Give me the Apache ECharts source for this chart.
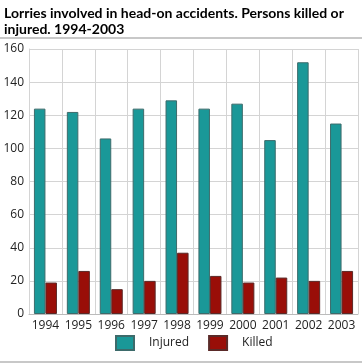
<!DOCTYPE html>
<html>
<head>
<meta charset="utf-8">
<script src="https://cdn.jsdelivr.net/npm/echarts@6/dist/echarts.min.js"></script>
<style>
html,body{margin:0;padding:0;background:#fff;}
#chart{width:362px;height:363px;}
</style>
</head>
<body>
<div id="chart"></div>
<script>
var titleText = 'Lorries involved in head-on accidents. Persons killed or\ninjured. 1994-2003';
var categories = ['1994','1995','1996','1997','1998','1999','2000','2001','2002','2003'];
var injured = [124,122,106,124,129,124,127,105,152,115];
var killed = [19,26,15,20,37,23,19,22,20,26];
var seriesNames = ['Injured','Killed'];

var chart = echarts.init(document.getElementById('chart'), null, {renderer:'canvas'});
var font = '"Open Sans", "Noto Sans", sans-serif';
chart.setOption({
  animation:false,
  backgroundColor:'#fff',
  title:{
    text:titleText,
    left:-1, top:0,
    textStyle:{fontFamily:'Lato, sans-serif', fontSize:14, fontWeight:'bold', color:'#000', lineHeight:16}
  },
  graphic:[
    {type:'rect', shape:{x:0,y:37,width:362,height:2}, style:{fill:'#c8c8c8'}, silent:true},
    {type:'rect', shape:{x:0,y:361,width:362,height:2}, style:{fill:'#c8c8c8'}, silent:true}
  ],
  legend:{
    bottom:7, left:110,
    itemWidth:18, itemHeight:14, itemGap:19,
    icon:'rect',
    textStyle:{fontFamily:font, fontSize:12, color:'#222', padding:[0,0,0,10]},
    data:seriesNames
  },
  grid:{left:29, right:4, top:49, bottom:49},
  xAxis:{
    type:'category', data:categories,
    axisLine:{show:true, lineStyle:{color:'#bbb'}},
    axisTick:{show:false},
    axisLabel:{fontFamily:font, fontSize:12, color:'#222', margin:6, interval:0},
    splitLine:{show:true, interval:0, lineStyle:{color:'#d4d4d4', width:1}}
  },
  yAxis:{
    type:'value', min:0, max:160, interval:20,
    axisLine:{show:true, lineStyle:{color:'#d4d4d4'}},
    axisTick:{show:false},
    axisLabel:{fontFamily:font, fontSize:12, color:'#222', margin:5},
    splitLine:{lineStyle:{color:'#d4d4d4', width:1}}
  },
  series:[
    {name:seriesNames[0], type:'bar', data:injured, barGap:'0%', barCategoryGap:'30%',
     itemStyle:{color:'#1a9898', borderColor:'#3d6b6b', borderWidth:1}},
    {name:seriesNames[1], type:'bar', data:killed,
     itemStyle:{color:'#990e08', borderColor:'#5a2a28', borderWidth:1}}
  ]
});
</script>
</body>
</html>
